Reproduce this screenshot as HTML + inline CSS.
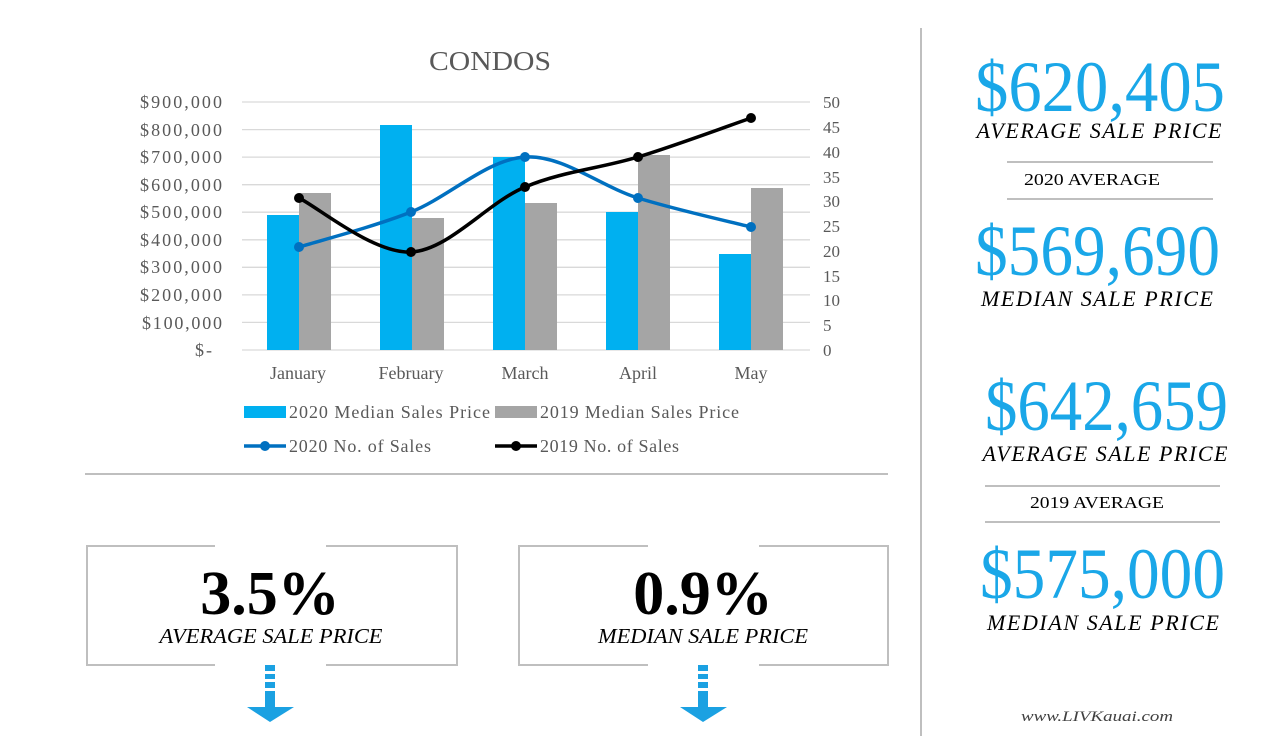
<!DOCTYPE html>
<html><head><meta charset="utf-8"><style>
html,body{margin:0;padding:0;background:#fff}
svg{display:block}
text{font-family:"Liberation Serif",serif}
</style></head><body>
<svg width="1275" height="750" viewBox="0 0 1275 750" xmlns="http://www.w3.org/2000/svg">
<rect width="1275" height="750" fill="#fff"/>
<text x="490" y="70" font-size="27" fill="#595959" text-anchor="middle" textLength="122" lengthAdjust="spacingAndGlyphs">CONDOS</text>
<g stroke="#d9d9d9" stroke-width="1.3">
<line x1="242" y1="102" x2="810" y2="102"/><line x1="242" y1="129.6" x2="810" y2="129.6"/>
<line x1="242" y1="157.1" x2="810" y2="157.1"/><line x1="242" y1="184.7" x2="810" y2="184.7"/>
<line x1="242" y1="212.2" x2="810" y2="212.2"/><line x1="242" y1="239.8" x2="810" y2="239.8"/>
<line x1="242" y1="267.3" x2="810" y2="267.3"/><line x1="242" y1="294.9" x2="810" y2="294.9"/>
<line x1="242" y1="322.4" x2="810" y2="322.4"/><line x1="242" y1="350" x2="810" y2="350"/>
</g>
<g font-size="18" fill="#595959" lengthAdjust="spacingAndGlyphs">
<text x="140" y="108" textLength="82">$900,000</text><text x="140" y="136" textLength="82">$800,000</text>
<text x="140" y="163" textLength="82">$700,000</text><text x="140" y="191" textLength="82">$600,000</text>
<text x="140" y="218" textLength="82">$500,000</text><text x="140" y="246" textLength="82">$400,000</text>
<text x="140" y="273" textLength="82">$300,000</text><text x="140" y="301" textLength="82">$200,000</text>
<text x="142" y="329" textLength="80">$100,000</text><text x="195" y="356" textLength="17">$-</text>
</g>
<g font-size="17" fill="#595959">
<text x="823" y="108">50</text><text x="823" y="133">45</text><text x="823" y="158">40</text>
<text x="823" y="183">35</text><text x="823" y="207">30</text><text x="823" y="232">25</text>
<text x="823" y="257">20</text><text x="823" y="282">15</text><text x="823" y="306">10</text>
<text x="823" y="331">5</text><text x="823" y="356">0</text>
</g>
<g fill="#00b0f0">
<rect x="267" y="215" width="32" height="135"/><rect x="380" y="125" width="32" height="225"/>
<rect x="493" y="157" width="32" height="193"/><rect x="606" y="212" width="32" height="138"/>
<rect x="719" y="254" width="32" height="96"/>
</g>
<g fill="#a5a5a5">
<rect x="299" y="193" width="32" height="157"/><rect x="412" y="218" width="32" height="132"/>
<rect x="525" y="203" width="32" height="147"/><rect x="638" y="155" width="32" height="195"/>
<rect x="751" y="188" width="32" height="162"/>
</g>
<path d="M299,247 C317.7,241.2 373.3,227 411,212 C448.7,197 487.2,159.3 525,157 C562.8,154.7 600.3,186.3 638,198 C675.7,209.7 732.2,222.2 751,227" fill="none" stroke="#0070c0" stroke-width="3.5"/>
<g fill="#0070c0"><circle cx="299" cy="247" r="5"/><circle cx="411" cy="212" r="5"/><circle cx="525" cy="157" r="5"/><circle cx="638" cy="198" r="5"/><circle cx="751" cy="227" r="5"/></g>
<path d="M299,198 C317.7,207 373.3,253.8 411,252 C448.7,250.2 487.2,202.8 525,187 C562.8,171.2 600.3,168.5 638,157 C675.7,145.5 732.2,124.5 751,118" fill="none" stroke="#000" stroke-width="3.5"/>
<g fill="#000"><circle cx="299" cy="198" r="5"/><circle cx="411" cy="252" r="5"/><circle cx="525" cy="187" r="5"/><circle cx="638" cy="157" r="5"/><circle cx="751" cy="118" r="5"/></g>
<g font-size="18" fill="#595959" text-anchor="middle">
<text x="298" y="379">January</text><text x="411" y="379">February</text><text x="525" y="379">March</text>
<text x="638" y="379">April</text><text x="751" y="379">May</text>
</g>
<g font-size="18" fill="#595959" lengthAdjust="spacingAndGlyphs">
<rect x="244" y="406" width="42" height="12" fill="#00b0f0"/>
<text x="289" y="418" textLength="201">2020 Median Sales Price</text>
<rect x="495" y="406" width="42" height="12" fill="#a5a5a5"/>
<text x="540" y="418" textLength="199">2019 Median Sales Price</text>
<line x1="244" y1="446" x2="286" y2="446" stroke="#0070c0" stroke-width="3.5"/><circle cx="265" cy="446" r="5" fill="#0070c0"/>
<text x="289" y="452" textLength="142">2020 No. of Sales</text>
<line x1="495" y1="446" x2="537" y2="446" stroke="#000" stroke-width="3.5"/><circle cx="516" cy="446" r="5" fill="#000"/>
<text x="540" y="452" textLength="139">2019 No. of Sales</text>
</g>
<line x1="85" y1="474" x2="888" y2="474" stroke="#bfbfbf" stroke-width="2"/>
<line x1="921" y1="28" x2="921" y2="736" stroke="#bfbfbf" stroke-width="2"/>
<g stroke="#bfbfbf" stroke-width="2" fill="none">
<path d="M215,546 H87 V665 H215 M326,546 H457 V665 H326"/>
<path d="M648,546 H519 V665 H648 M759,546 H888 V665 H759"/>
</g>
<text x="270" y="614" font-size="62" font-weight="bold" text-anchor="middle" fill="#000">3.5%</text>
<text x="271" y="643" font-size="21" font-style="italic" text-anchor="middle" fill="#000" textLength="223" lengthAdjust="spacingAndGlyphs">AVERAGE SALE PRICE</text>
<text x="703" y="614" font-size="62" font-weight="bold" text-anchor="middle" fill="#000">0.9%</text>
<text x="703" y="643" font-size="21" font-style="italic" text-anchor="middle" fill="#000" textLength="210" lengthAdjust="spacingAndGlyphs">MEDIAN SALE PRICE</text>
<g fill="#1ba1e2">
<rect x="265" y="665" width="10" height="6"/><rect x="265" y="674" width="10" height="5"/><rect x="265" y="682" width="10" height="6"/><rect x="265" y="691" width="10" height="16"/>
<polygon points="247,707 294,707 270,722"/>
<rect x="698" y="665" width="10" height="6"/><rect x="698" y="674" width="10" height="5"/><rect x="698" y="682" width="10" height="6"/><rect x="698" y="691" width="10" height="16"/>
<polygon points="680,707 727,707 703,722"/>
</g>
<g fill="#1aa7e8" font-size="72">
<text x="975" y="111" textLength="250" lengthAdjust="spacingAndGlyphs">$620,405</text>
<text x="975" y="275" textLength="245" lengthAdjust="spacingAndGlyphs">$569,690</text>
<text x="985" y="430" textLength="243" lengthAdjust="spacingAndGlyphs">$642,659</text>
<text x="980" y="598" textLength="245" lengthAdjust="spacingAndGlyphs">$575,000</text>
</g>
<g font-size="22" font-style="italic" fill="#000" text-anchor="middle" lengthAdjust="spacingAndGlyphs">
<text x="1099" y="138" textLength="245">AVERAGE SALE PRICE</text>
<text x="1097" y="306" textLength="232">MEDIAN SALE PRICE</text>
<text x="1105" y="461" textLength="245">AVERAGE SALE PRICE</text>
<text x="1103" y="630" textLength="232">MEDIAN SALE PRICE</text>
</g>
<g stroke="#bfbfbf" stroke-width="2">
<line x1="1007" y1="162" x2="1213" y2="162"/><line x1="1007" y1="199" x2="1213" y2="199"/>
<line x1="985" y1="486" x2="1220" y2="486"/><line x1="985" y1="522" x2="1220" y2="522"/>
</g>
<text x="1092" y="185" font-size="17" text-anchor="middle" fill="#000" textLength="136" lengthAdjust="spacingAndGlyphs">2020 AVERAGE</text>
<text x="1097" y="508" font-size="17" text-anchor="middle" fill="#000" textLength="134" lengthAdjust="spacingAndGlyphs">2019 AVERAGE</text>
<text x="1097" y="721" font-size="15" font-style="italic" text-anchor="middle" fill="#404040" textLength="152" lengthAdjust="spacingAndGlyphs">www.LIVKauai.com</text>
</svg>
</body></html>
